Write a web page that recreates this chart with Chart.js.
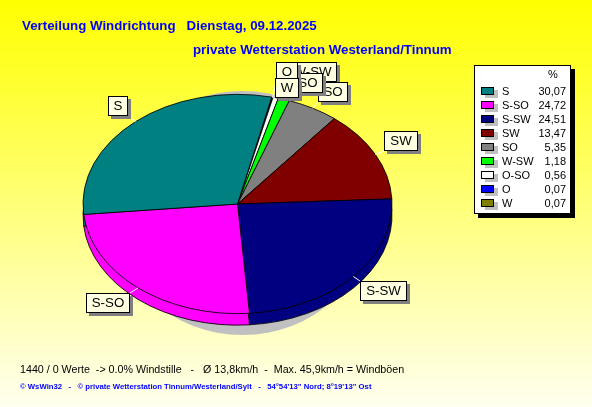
<!DOCTYPE html>
<html>
<head>
<meta charset="utf-8">
<style>
html, body { margin: 0; padding: 0; background: #fffff0; overflow: hidden; }
#wrap { width: 592px; height: 407px; }
</style>
<script src="https://cdn.jsdelivr.net/npm/chart.js@4"></script>
</head>
<body>
<div id="wrap"><canvas id="myChart" width="592" height="407"></canvas></div>
<script>
///// data, same order as the legend
const categories = ['S', 'S-SO', 'S-SW', 'SW', 'SO', 'W-SW', 'O-SO', 'O', 'W'];
const percents = [30.07, 24.72, 24.51, 13.47, 5.35, 1.18, 0.56, 0.07, 0.07];
const percentLabels = ['30,07', '24,72', '24,51', '13,47', '5,35', '1,18', '0,56', '0,07', '0,07'];
const colors = ['#008080', '#ff00ff', '#000080', '#800000', '#808080', '#00ff00', '#ffffff', '#0000ff', '#808000'];

const titleLine1 = 'Verteilung Windrichtung   Dienstag, 09.12.2025';
const titleLine2 = 'private Wetterstation Westerland/Tinnum';
const infoLine = '1440 / 0 Werte  -> 0.0% Windstille   -   Ø 13,8km/h  -  Max. 45,9km/h = Windböen';
const creditLine = '© WsWin32   -   © private Wetterstation Tinnum/Westerland/Sylt   -   54°54\'13" Nord; 8°19\'13" Ost';

// callout boxes: x, y, w, h. drawn in this order, last one on top
const callouts = {
  'S': [108, 96, 20, 20],
  'S-SO': [86, 293, 44, 20],
  'S-SW': [360, 281, 47, 20],
  'SW': [384, 131, 34, 20],
  'W-SW': [288, 62, 49, 20],
  'SO': [318, 82, 30, 20],
  'O-SO': [278, 73, 45, 20],
  'O': [276, 62, 22, 20],
  'W': [275, 78, 24, 20],
};

const squash = 110 / 155;
const rimDepth = 11.5;

// pie is drawn clockwise, the original runs the other way round
const pieLabels = categories.slice().reverse();
const pieValues = percents.slice().reverse();
const pieColors = colors.slice().reverse();

function squashed(ctx, arc, dy) {
  ctx.translate(arc.x, arc.y + dy);
  ctx.scale(1, squash);
  ctx.translate(-arc.x, -arc.y);
}

const piePlugin = {
  id: 'pie3d',
  beforeDraw(chart) {
    const { ctx, width, height } = chart;
    let bg = ctx.createLinearGradient(0, 0, 0, height);
    bg.addColorStop(0, '#ffff00');
    bg.addColorStop(1, '#fffff0');
    ctx.fillStyle = bg;
    ctx.fillRect(0, 0, width, height);
  },
  beforeDatasetDraw(chart) {
    const { ctx } = chart;
    const arcs = chart.getDatasetMeta(0).data;
    const first = arcs[0];

    // gray drop shadow behind the pie
    ctx.save();
    ctx.fillStyle = '#c0c0c0';
    ctx.beginPath();
    ctx.ellipse(first.x + 5, first.y + 9, 130, 122, 0, 0, Math.PI * 2);
    ctx.fill();
    ctx.restore();

    // rim: the same arcs again, a bit lower
    ctx.save();
    squashed(ctx, first, rimDepth);
    arcs.forEach((a) => a.draw(ctx));
    ctx.restore();

    ctx.save();
    squashed(ctx, first, 0);
  },
  afterDatasetDraw(chart) {
    chart.ctx.restore();
  },
  afterDraw(chart) {
    const { ctx } = chart;
    const arcs = chart.getDatasetMeta(0).data;
    drawTexts(ctx);
    drawCallouts(ctx, arcs);
    drawLegend(ctx);
  },
};

function drawTexts(ctx) {
  ctx.save();
  ctx.textBaseline = 'alphabetic';
  ctx.fillStyle = '#0000ff';
  ctx.font = 'bold 13.3px "Liberation Sans"';
  ctx.fillText(titleLine1, 22, 30);
  ctx.fillText(titleLine2, 193, 54);
  ctx.fillStyle = '#000000';
  ctx.font = '10.7px "Liberation Sans"';
  ctx.fillText(infoLine, 20, 373);
  ctx.fillStyle = '#0000ff';
  ctx.font = 'bold 7.73px "Liberation Sans"';
  ctx.fillText(creditLine, 20, 389);
  ctx.restore();
}

function drawCallouts(ctx, arcs) {
  ctx.save();
  ctx.font = '13.3px "Liberation Sans"';
  ctx.textBaseline = 'middle';
  ctx.textAlign = 'center';
  Object.keys(callouts).forEach((name) => {
    const [x, y, w, h] = callouts[name];
    const arc = arcs[pieLabels.indexOf(name)];
    const mid = (arc.startAngle + arc.endAngle) / 2;
    const ex = arc.x + Math.cos(mid) * arc.outerRadius;
    const ey = arc.y + Math.sin(mid) * arc.outerRadius * squash;
    const cx = Math.min(Math.max(ex, x), x + w);
    const cy = Math.min(Math.max(ey, y), y + h);

    ctx.strokeStyle = '#ffffff';
    ctx.lineWidth = 1;
    ctx.beginPath();
    ctx.moveTo(cx, cy);
    ctx.lineTo(ex, ey);
    ctx.stroke();

    ctx.fillStyle = '#808080';
    ctx.fillRect(x + 3, y + 3, w, h);
    ctx.fillStyle = '#ffffe1';
    ctx.fillRect(x, y, w, h);
    ctx.strokeStyle = '#000000';
    ctx.strokeRect(x + 0.5, y + 0.5, w - 1, h - 1);
    ctx.fillStyle = '#000000';
    ctx.fillText(name, x + w / 2, y + h / 2 + 0.5);
  });
  ctx.restore();
}

function drawLegend(ctx) {
  ctx.save();
  ctx.fillStyle = '#000000';
  ctx.fillRect(478, 69, 97, 149);
  ctx.fillStyle = '#ffffff';
  ctx.fillRect(474, 65, 97, 149);
  ctx.strokeStyle = '#000000';
  ctx.lineWidth = 1;
  ctx.strokeRect(474.5, 65.5, 96, 148);

  ctx.font = '11px "Liberation Sans"';
  ctx.textBaseline = 'middle';
  ctx.fillStyle = '#000000';
  ctx.textAlign = 'center';
  ctx.fillText('%', 553, 75);
  categories.forEach((name, i) => {
    const y = 91 + i * 14;
    ctx.fillStyle = '#c0c0c0';
    ctx.fillRect(485, y - 1, 13, 8);
    ctx.fillStyle = colors[i];
    ctx.fillRect(481, y - 4, 13, 8);
    ctx.strokeStyle = '#000000';
    ctx.strokeRect(481.5, y - 3.5, 12, 7);
    ctx.fillStyle = '#000000';
    ctx.textAlign = 'left';
    ctx.fillText(name, 502, y + 0.5);
    ctx.textAlign = 'right';
    ctx.fillText(percentLabels[i], 566, y + 0.5);
  });
  ctx.restore();
}

const ctx = document.querySelector('#myChart').getContext('2d');

const myChart = new Chart(ctx, {
  type: 'pie',
  data: {
    labels: pieLabels,
    datasets: [
      {
        data: pieValues,
        backgroundColor: pieColors,
        borderColor: '#000000',
        borderWidth: 1,
        clip: false,
      },
    ],
  },
  options: {
    responsive: false,
    animation: false,
    rotation: 12.8,
    layout: { padding: { left: 82, right: 199, top: 49, bottom: 48 } },
    plugins: { legend: { display: false }, tooltip: { enabled: false }, title: { display: false } },
  },
  plugins: [piePlugin],
});
</script>
</body>
</html>
